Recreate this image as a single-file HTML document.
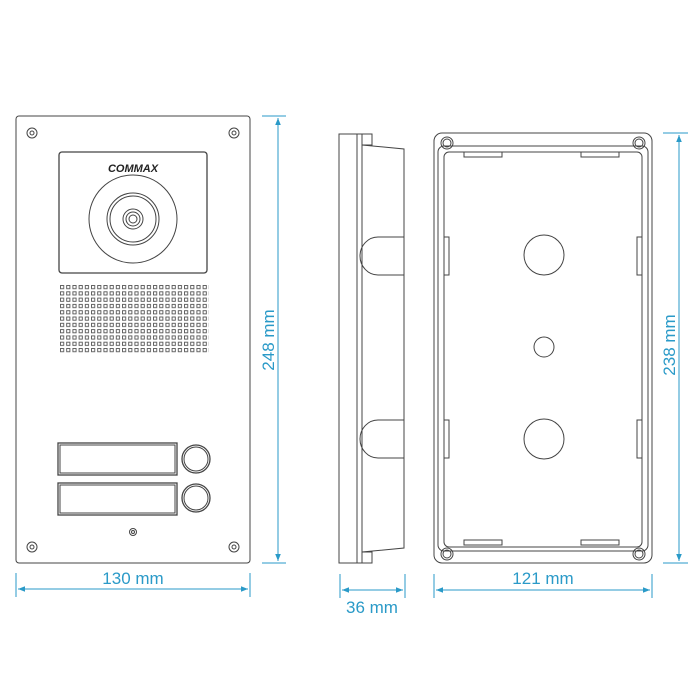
<!DOCTYPE html>
<html><head><style>body{margin:0;background:#fff}svg{display:block}</style></head><body>
<svg width="696" height="696" viewBox="0 0 696 696" xmlns="http://www.w3.org/2000/svg" font-family="Liberation Sans, sans-serif">
<defs>
<marker id="a" viewBox="0 0 10 10" refX="10" refY="5" markerWidth="9" markerHeight="7" orient="auto-start-reverse"><path d="M0,1 L10,5 L0,9 z" fill="#2a9ac8"/></marker>
<pattern id="g" x="60" y="285" width="6.2" height="6.3" patternUnits="userSpaceOnUse"><rect x="0.5" y="0.5" width="3.2" height="3.2" fill="none" stroke="#555" stroke-width="0.9"/></pattern>
</defs>
<g fill="none" stroke="#444" stroke-width="1">
<!-- front panel -->
<rect x="16" y="116" width="234" height="447" rx="3"/>
<g><circle cx="32" cy="133" r="5"/><circle cx="32" cy="133" r="2"/>
<circle cx="234" cy="133" r="5"/><circle cx="234" cy="133" r="2"/>
<circle cx="32" cy="547" r="5"/><circle cx="32" cy="547" r="2"/>
<circle cx="234" cy="547" r="5"/><circle cx="234" cy="547" r="2"/>
<circle cx="133" cy="532" r="3.5"/><circle cx="133" cy="532" r="1.5"/></g>
<rect x="59" y="152" width="148" height="121" rx="3" stroke-width="1.3"/>
<circle cx="133" cy="219" r="44"/>
<circle cx="133" cy="219" r="26"/><circle cx="133" cy="219" r="23"/>
<circle cx="133" cy="219" r="10"/><circle cx="133" cy="219" r="7"/><circle cx="133" cy="219" r="4"/>
<rect x="60" y="285" width="149" height="69" fill="url(#g)" stroke="none"/>
<rect x="58" y="443" width="119" height="32" stroke-width="1.3"/><rect x="60" y="445" width="115" height="28"/>
<rect x="58" y="483" width="119" height="32" stroke-width="1.3"/><rect x="60" y="485" width="115" height="28"/>
<circle cx="196" cy="459" r="14" stroke-width="1.3"/><circle cx="196" cy="459" r="12"/>
<circle cx="196" cy="498" r="14" stroke-width="1.3"/><circle cx="196" cy="498" r="12"/>
<!-- side view -->
<rect x="339" y="134" width="18" height="429"/>
<rect x="357" y="134" width="5" height="429"/>
<rect x="362" y="134" width="10" height="11"/>
<rect x="362" y="552" width="10" height="11"/>
<path d="M362,145 L404,149 L404,548 L362,552"/>
<path d="M404,237 L378,237 A18,19 0 0 0 378,275 L404,275"/>
<path d="M404,420 L378,420 A18,19 0 0 0 378,458 L404,458"/>
<!-- back box -->
<rect x="434" y="133" width="218" height="430" rx="8"/>
<rect x="438" y="146" width="210" height="405" rx="6"/>
<rect x="444" y="152" width="198" height="395" rx="5"/>
<circle cx="447" cy="143" r="6"/><circle cx="447" cy="143" r="4"/>
<circle cx="639" cy="143" r="6"/><circle cx="639" cy="143" r="4"/>
<circle cx="447" cy="554" r="6"/><circle cx="447" cy="554" r="4"/>
<circle cx="639" cy="554" r="6"/><circle cx="639" cy="554" r="4"/>
<rect x="464" y="152" width="38" height="5"/><rect x="581" y="152" width="38" height="5"/>
<rect x="464" y="540" width="38" height="5"/><rect x="581" y="540" width="38" height="5"/>
<rect x="444" y="237" width="5" height="38"/><rect x="637" y="237" width="5" height="38"/>
<rect x="444" y="420" width="5" height="38"/><rect x="637" y="420" width="5" height="38"/>
<circle cx="544" cy="255" r="20"/><circle cx="544" cy="347" r="10"/><circle cx="544" cy="439" r="20"/>
</g>
<text x="133" y="172" text-anchor="middle" font-size="11" font-weight="bold" font-style="italic" fill="#222">COMMAX</text>
<!-- dimensions -->
<g stroke="#2a9ac8" stroke-width="1" fill="none">
<line x1="262" y1="116" x2="286" y2="116"/><line x1="262" y1="563" x2="286" y2="563"/>
<line x1="278" y1="118" x2="278" y2="561" marker-start="url(#a)" marker-end="url(#a)"/>
<line x1="16" y1="573" x2="16" y2="597"/><line x1="250" y1="573" x2="250" y2="597"/>
<line x1="18" y1="589" x2="248" y2="589" marker-start="url(#a)" marker-end="url(#a)"/>
<line x1="340" y1="574" x2="340" y2="598"/><line x1="405" y1="574" x2="405" y2="598"/>
<line x1="342" y1="590" x2="403" y2="590" marker-start="url(#a)" marker-end="url(#a)"/>
<line x1="434" y1="574" x2="434" y2="598"/><line x1="652" y1="574" x2="652" y2="598"/>
<line x1="436" y1="590" x2="650" y2="590" marker-start="url(#a)" marker-end="url(#a)"/>
<line x1="663" y1="133" x2="688" y2="133"/><line x1="663" y1="563" x2="688" y2="563"/>
<line x1="679" y1="135" x2="679" y2="561" marker-start="url(#a)" marker-end="url(#a)"/>
</g>
<g fill="#2a9ac8" font-size="17" text-anchor="middle">
<text x="133" y="584">130 mm</text>
<text x="372" y="613">36 mm</text>
<text x="543" y="584">121 mm</text>
<text transform="translate(274,340) rotate(-90)">248 mm</text>
<text transform="translate(675,345) rotate(-90)">238 mm</text>
</g>
</svg>
</body></html>
